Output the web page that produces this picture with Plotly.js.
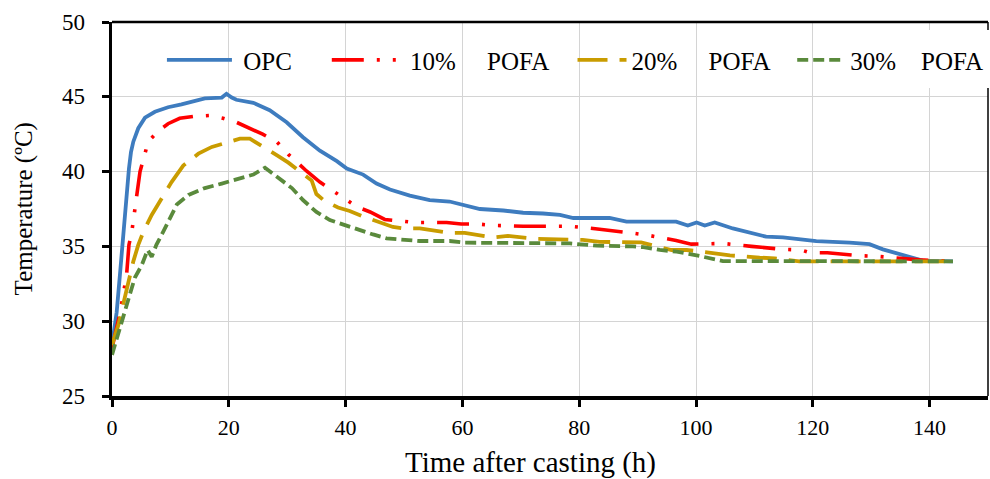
<!DOCTYPE html>
<html>
<head>
<meta charset="utf-8">
<script src="https://cdn.plot.ly/plotly-3.0.1.min.js"></script>
<style>html,body{margin:0;padding:0;background:#fff;}#chart{width:990px;height:479px;}</style>
</head>
<body>
<div id="chart"></div>
<script>
// ---- data ----
var opcTime = [0,0.8,1.4,1.9,2.5,2.9,3.25,3.65,4.5,5.65,7.35,9.6,11.9,14.2,15.9,18.8,19.6,20.5,21.3,24.2,27.0,29.9,32.7,35.6,38.5,40.2,43.0,45.3,47.6,51.0,54.4,57.8,60.1,63.0,67.0,70.4,73.8,76.7,79.0,85.2,88.1,96.6,98.6,100.1,101.5,103.2,106.3,109.2,112.0,114.9,117.7,120.6,126.3,129.7,132.0,134.3,136.6,138.8,144.0];
var opcTemp = [28.4,30.6,33.3,35.8,38.2,40.2,41.3,42.0,42.9,43.6,44.0,44.3,44.5,44.7,44.9,44.95,45.2,44.95,44.8,44.6,44.1,43.3,42.3,41.4,40.7,40.2,39.8,39.2,38.8,38.4,38.1,38.0,37.8,37.5,37.4,37.25,37.2,37.1,36.9,36.9,36.65,36.65,36.4,36.6,36.4,36.6,36.2,35.9,35.65,35.6,35.45,35.35,35.25,35.15,34.8,34.55,34.27,34.05,34.0];

var p10Time = [0,1.4,2.5,2.9,3.4,3.8,4.2,4.8,5.5,6.2,7.9,9.6,11.6,14.2,16.8,19.0,21.3,23.6,25.8,28.2,30.2,31.9,33.3,35.6,37.9,40.2,41.9,44.2,46.7,49.4,51.9,57.3,59.8,62.5,65.3,70.4,75.8,78.4,83.5,86.1,88.9,91.7,96.6,99.2,101.9,104.6,109.5,112.3,115.0,118.0,119.5,122.5,125.1,127.8,130.6,134.0,138.3,144.0];
var p10Temp = [28.2,30.6,33.1,35.1,36.0,37.1,38.2,40.0,41.0,42.0,42.7,43.2,43.56,43.7,43.75,43.56,43.3,42.9,42.5,42.0,41.15,40.55,40.04,39.3,38.7,38.1,37.65,37.3,36.8,36.7,36.6,36.6,36.5,36.5,36.4,36.35,36.35,36.35,36.15,36.05,35.9,35.75,35.4,35.15,35.15,35.2,35.0,34.9,34.8,34.76,34.58,34.58,34.47,34.38,34.35,34.25,34.1,34.0];

var p20Time = [0,1.1,1.9,2.7,3.65,4.5,5.4,6.8,8.5,10.2,12.2,14.8,17.1,19.1,21.9,23.6,25.8,28.2,30.2,31.9,34.2,35.0,36.2,38.7,40.7,43.0,45.6,48.1,50.1,52.7,57.8,60.4,65.2,67.8,72.9,75.5,80.6,83.5,88.6,90.6,95.8,98.4,103.2,105.8,110.9,113.5,117.7,144.0];
var p20Temp = [28.4,29.75,31.1,32.4,34.0,35.1,36.0,37.1,38.2,39.3,40.4,41.2,41.65,41.9,42.2,42.2,41.7,41.1,40.6,40.1,39.4,38.5,38.1,37.6,37.37,37.0,36.65,36.3,36.2,36.2,35.9,35.9,35.6,35.7,35.5,35.47,35.43,35.3,35.3,35.27,34.76,34.76,34.54,34.4,34.25,34.2,34.0,34.0];

var p30Time = [0,0.8,1.9,2.8,3.9,5.1,6.1,6.8,7.6,8.8,9.9,11.1,13.1,15.9,18.8,21.9,24.2,26.2,28.5,30.8,32.7,35.0,37.3,39.9,42.4,44.7,47.0,49.9,52.7,57.8,60.4,78.4,83.0,89.2,91.0,93.8,96.7,100.6,102.3,103.5,104.6,144.0];
var p30Temp = [27.75,28.85,30.2,31.5,32.9,33.75,34.76,34.3,35.1,36.0,36.9,37.8,38.44,38.9,39.2,39.55,39.8,40.26,39.6,38.9,38.1,37.3,36.76,36.4,36.1,35.8,35.54,35.43,35.36,35.36,35.25,35.2,35.05,35.0,34.95,34.76,34.65,34.36,34.2,34.1,34.02,34.0];

var seriesNames = ['OPC', '10% POFA', '20% POFA', '30% POFA'];
var xTickVals = [0,20,40,60,80,100,120,140];
var yTickVals = [25,30,35,40,45,50];
var xTitle = 'Time after casting (h)';
var yTitle = 'Temperature (\u00baC)';

// ---- styling ----
var FONT = '"Liberation Serif", "Times New Roman", serif';
var NB = '\u00a0';
function pad(n){ return NB.repeat(n); }
var legendLabels = [
  pad(1) + 'OPC',
  pad(1) + '10%' + pad(5) + 'POFA',
  '20%' + pad(5) + 'POFA',
  '30%' + pad(4) + 'POFA'
];

var traces = [
  {x: opcTime, y: opcTemp, name: legendLabels[0], legend: 'legend',
   line: {color: '#3e7cbf', width: 3.8}},
  {x: p10Time, y: p10Temp, name: legendLabels[1], legend: 'legend2',
   line: {color: '#ff0000', width: 3.6, dash: '32px,13px,3px,13px,3px,13px'}},
  {x: p20Time, y: p20Temp, name: legendLabels[2], legend: 'legend3',
   line: {color: '#c99c00', width: 3.8, dash: '30px,12px'}},
  {x: p30Time, y: p30Temp, name: legendLabels[3], legend: 'legend4',
   line: {color: '#5a8a3c', width: 3.8, dash: '11px,5px'}}
].map(function(t){ t.type='scatter'; t.mode='lines'; t.hoverinfo='x+y'; return t; });

function leg(xp, w){
  return {x: xp, y: 0.898, xref: 'paper', yref: 'paper', xanchor: 'left', yanchor: 'middle',
          orientation: 'h', bgcolor: 'rgba(0,0,0,0)', borderwidth: 0, itemwidth: w,
          font: {family: FONT, size: 25, color: '#000'}};
}

// y tick labels placed on the y scale at each tick value
var yTickLabels = yTickVals.map(function(v){
  return {text: String(v), xref: 'paper', yref: 'y', x: 0, y: v, xshift: -25,
          xanchor: 'right', yanchor: 'middle', showarrow: false,
          font: {family: FONT, size: 23, color: '#000'}};
});

var layout = {
  width: 990, height: 479,
  margin: {l: 112, r: 2, t: 22, b: 83, autoexpand: false},
  paper_bgcolor: '#fff', plot_bgcolor: '#fff',
  font: {family: FONT, color: '#000'},
  showlegend: true,
  legend: leg(0.057, 65),
  legend2: leg(0.2452, 67),
  legend3: leg(0.5257, 49),
  legend4: leg(0.7765, 48),
  xaxis: {
    range: [0, 150], tickvals: xTickVals, ticktext: xTickVals.map(String),
    showgrid: true, gridcolor: '#d4d4d4', gridwidth: 1, zeroline: false,
    showline: true, linecolor: '#000', linewidth: 3.5,
    ticks: 'outside', ticklen: 7, tickwidth: 3, tickcolor: '#000',
    ticklabelstandoff: 2,
    tickfont: {family: FONT, size: 22, color: '#000'}
  },
  yaxis: {
    range: [25, 50], tickvals: yTickVals, showticklabels: false,
    showgrid: true, gridcolor: '#d4d4d4', gridwidth: 1, zeroline: false,
    showline: true, linecolor: '#000', linewidth: 3.5,
    ticks: 'outside', ticklen: 7, tickwidth: 3, tickcolor: '#000'
  },
  annotations: yTickLabels.concat([
    {text: xTitle, xref: 'paper', yref: 'paper', x: 0.478, y: -0.178,
     xanchor: 'center', yanchor: 'middle', showarrow: false,
     font: {family: FONT, size: 29, color: '#000'}},
    {text: yTitle, xref: 'paper', yref: 'paper', x: -0.1, y: 0.5,
     xanchor: 'center', yanchor: 'middle', showarrow: false, textangle: -90,
     font: {family: FONT, size: 25, color: '#000'}}
  ]),
  shapes: [
    {type: 'line', xref: 'paper', yref: 'paper', x0: 0, x1: 1, y0: 1, y1: 1, layer: 'above',
     line: {color: '#000', width: 2.5}},
    {type: 'line', xref: 'paper', yref: 'paper', x0: 1, x1: 1, y0: 0, y1: 1, layer: 'above',
     line: {color: '#000', width: 1.5}},
    {type: 'rect', xref: 'paper', yref: 'paper', x0: 0.9156, x1: 1.01, y0: 0.8235, y1: 0.9786, layer: 'above',
     fillcolor: '#fff', line: {width: 0}}
  ]
};

Plotly.newPlot('chart', traces, layout, {displayModeBar: false, staticPlot: true});
</script>
</body>
</html>
